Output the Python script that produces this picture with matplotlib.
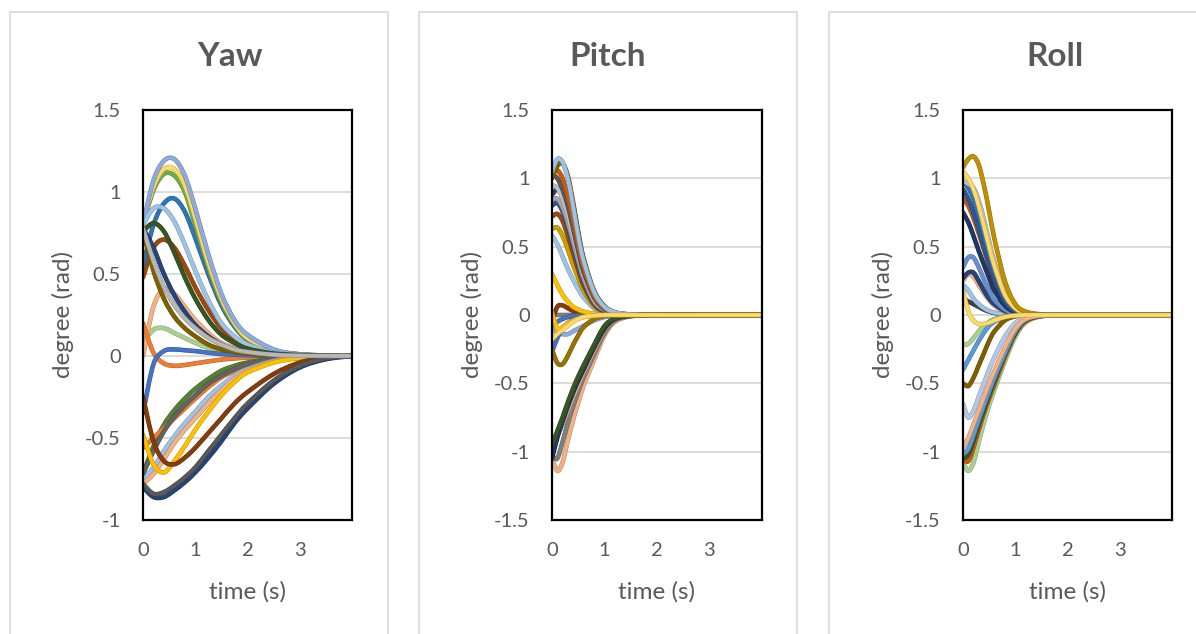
import numpy as np
import matplotlib
matplotlib.use("Agg")
import matplotlib.pyplot as plt
import matplotlib.patheffects as pe
from matplotlib.path import Path
from matplotlib.patches import PathPatch, Rectangle
from matplotlib.colors import to_rgb

plt.rcParams['font.family'] = ['Lato', 'DejaVu Sans']

# ---- data ----
yaw_t = [0, 0.2, 0.4, 0.6, 0.8, 1.0, 1.25, 1.5, 1.75, 2.0, 2.5, 3.0, 3.5, 4.0]
yaw_series = [
    [0.48, 0.66, 0.71, 0.66, 0.55, 0.42, 0.28, 0.17, 0.10, 0.06, 0.02, 0.005, 0.001, 0],
    [0.08, 0.16, 0.17, 0.14, 0.11, 0.08, 0.05, 0.03, 0.02, 0.01, 0.004, 0.001, 0, 0],
    [0.0, 0.30, 0.41, 0.38, 0.30, 0.22, 0.14, 0.08, 0.05, 0.03, 0.01, 0.003, 0.001, 0],
    [0.20, 0.02, -0.045, -0.06, -0.055, -0.045, -0.033, -0.022, -0.015, -0.01, -0.004, -0.001, 0, 0],
    [-0.35, -0.05, 0.03, 0.04, 0.035, 0.03, 0.02, 0.012, 0.008, 0.005, 0.002, 0, 0, 0],
    [0.55, 0.80, 0.93, 0.96, 0.88, 0.72, 0.50, 0.31, 0.18, 0.10, 0.03, 0.01, 0.003, 0],
    [0.80, 1.01, 1.11, 1.10, 1.00, 0.80, 0.54, 0.33, 0.19, 0.10, 0.03, 0.01, 0.003, 0],
    [0.80, 1.03, 1.14, 1.14, 1.04, 0.84, 0.57, 0.35, 0.20, 0.11, 0.035, 0.01, 0.003, 0],
    [0.80, 1.07, 1.19, 1.20, 1.10, 0.90, 0.62, 0.38, 0.22, 0.13, 0.04, 0.01, 0.003, 0],
    [0.80, 0.90, 0.90, 0.82, 0.68, 0.52, 0.34, 0.20, 0.12, 0.07, 0.02, 0.006, 0.002, 0],
    [0.76, 0.81, 0.76, 0.63, 0.48, 0.35, 0.22, 0.13, 0.08, 0.045, 0.015, 0.005, 0.001, 0],
    [0.78, 0.66, 0.50, 0.37, 0.27, 0.19, 0.12, 0.07, 0.04, 0.025, 0.008, 0.002, 0.001, 0],
    [0.76, 0.52, 0.35, 0.24, 0.17, 0.12, 0.07, 0.04, 0.025, 0.015, 0.005, 0.001, 0, 0],
    [-0.72, -0.55, -0.42, -0.33, -0.26, -0.20, -0.14, -0.09, -0.06, -0.04, -0.015, -0.005, -0.001, 0],
    [-0.56, -0.50, -0.44, -0.38, -0.32, -0.26, -0.19, -0.13, -0.09, -0.06, -0.02, -0.007, -0.002, 0],
    [-0.72, -0.58, -0.46, -0.37, -0.30, -0.24, -0.17, -0.12, -0.08, -0.05, -0.02, -0.006, -0.002, 0],
    [-0.76, -0.68, -0.58, -0.49, -0.41, -0.34, -0.25, -0.18, -0.12, -0.08, -0.03, -0.01, -0.003, 0],
    [-0.78, -0.72, -0.63, -0.53, -0.45, -0.38, -0.29, -0.21, -0.14, -0.09, -0.035, -0.012, -0.003, 0],
    [-0.48, -0.66, -0.71, -0.64, -0.55, -0.45, -0.34, -0.24, -0.16, -0.10, -0.04, -0.012, -0.003, 0],
    [-0.25, -0.52, -0.64, -0.66, -0.62, -0.56, -0.47, -0.38, -0.29, -0.22, -0.11, -0.04, -0.01, 0],
    [-0.80, -0.86, -0.86, -0.82, -0.77, -0.71, -0.62, -0.52, -0.41, -0.32, -0.17, -0.07, -0.02, 0],
    [-0.78, -0.84, -0.83, -0.79, -0.74, -0.68, -0.58, -0.48, -0.38, -0.29, -0.15, -0.06, -0.015, 0],
    [0.78, 0.58, 0.42, 0.31, 0.23, 0.17, 0.11, 0.07, 0.04, 0.025, 0.008, 0.002, 0.001, 0],
]
yaw_colors = ['#9E480E', '#A9D18E', '#F4B183', '#ED7D31', '#4472C4', '#2E75B6',
              '#70AD47', '#FFD966', '#8FAADC', '#9DC3E6', '#375623', '#264478',
              '#7F6000', '#548235', '#ED7D31', '#636363', '#9DC3E6', '#F4B183',
              '#FFC000', '#843C0C', '#264478', '#595959', '#B7B7B7']

ang_t = [0, 0.1, 0.2, 0.3, 0.4, 0.5, 0.6, 0.8, 1.0, 1.2, 1.5, 2.0, 3.0, 4.0]
pitch_series = [
    [0.0, 0, 0, 0, 0, 0, 0, 0, 0, 0, 0, 0, 0, 0],
    [-0.05, 0.06, 0.07, 0.05, 0.03, 0.015, 0.008, 0.002, 0, 0, 0, 0, 0, 0],
    [-0.08, -0.05, -0.03, -0.015, -0.008, -0.004, -0.002, 0, 0, 0, 0, 0, 0, 0],
    [-0.10, -0.13, -0.14, -0.14, -0.12, -0.10, -0.08, -0.04, -0.015, -0.005, 0, 0, 0, 0],
    [-0.27, -0.17, -0.10, -0.06, -0.035, -0.02, -0.01, -0.003, 0, 0, 0, 0, 0, 0],
    [-0.25, -0.35, -0.36, -0.30, -0.22, -0.15, -0.09, -0.03, -0.008, 0, 0, 0, 0, 0],
    [0.30, 0.22, 0.15, 0.10, 0.06, 0.04, 0.025, 0.01, 0.003, 0, 0, 0, 0, 0],
    [0.58, 0.52, 0.43, 0.34, 0.26, 0.19, 0.13, 0.05, 0.015, 0.005, 0, 0, 0, 0],
    [0.63, 0.64, 0.58, 0.48, 0.37, 0.27, 0.18, 0.065, 0.02, 0.006, 0.001, 0, 0, 0],
    [0.72, 0.74, 0.69, 0.58, 0.46, 0.33, 0.22, 0.08, 0.025, 0.008, 0.001, 0, 0, 0],
    [0.80, 0.82, 0.76, 0.65, 0.51, 0.37, 0.25, 0.09, 0.03, 0.01, 0.002, 0, 0, 0],
    [0.85, 0.85, 0.79, 0.68, 0.54, 0.40, 0.27, 0.10, 0.035, 0.01, 0.002, 0, 0, 0],
    [0.88, 0.92, 0.88, 0.77, 0.62, 0.46, 0.31, 0.12, 0.04, 0.012, 0.002, 0, 0, 0],
    [0.95, 0.93, 0.85, 0.73, 0.58, 0.43, 0.29, 0.11, 0.04, 0.012, 0.002, 0, 0, 0],
    [1.03, 1.00, 0.92, 0.80, 0.64, 0.47, 0.32, 0.13, 0.045, 0.015, 0.003, 0, 0, 0],
    [1.05, 1.06, 1.00, 0.87, 0.70, 0.51, 0.35, 0.14, 0.05, 0.015, 0.003, 0, 0, 0],
    [1.00, 1.09, 1.11, 1.02, 0.83, 0.61, 0.42, 0.18, 0.065, 0.02, 0.004, 0, 0, 0],
    [1.05, 1.14, 1.12, 1.00, 0.80, 0.58, 0.40, 0.17, 0.06, 0.02, 0.004, 0, 0, 0],
    [-1.05, -1.14, -1.08, -0.92, -0.77, -0.64, -0.52, -0.33, -0.15, -0.05, -0.01, 0, 0, 0],
    [-1.03, -1.05, -0.93, -0.79, -0.67, -0.56, -0.46, -0.29, -0.13, -0.04, -0.008, 0, 0, 0],
    [-0.90, -0.88, -0.80, -0.70, -0.60, -0.51, -0.42, -0.26, -0.11, -0.035, -0.007, 0, 0, 0],
    [-1.05, -0.90, -0.78, -0.67, -0.57, -0.48, -0.40, -0.24, -0.10, -0.03, -0.006, 0, 0, 0],
    [-0.95, -0.85, -0.75, -0.64, -0.54, -0.45, -0.37, -0.22, -0.08, -0.025, -0.005, 0, 0, 0],
    [0.02, -0.10, -0.09, -0.06, -0.04, -0.025, -0.015, -0.005, 0, 0, 0, 0, 0, 0],
    [-0.18, -0.14, -0.11, -0.08, -0.05, -0.03, -0.015, -0.004, 0, 0, 0, 0, 0, 0],
]
pitch_colors = ['#7F7F7F', '#843C0C', '#4472C4', '#8FAADC', '#4472C4', '#997300',
                '#FFC000', '#9DC3E6', '#C9A000', '#9E480E', '#2F5597', '#A5A5A5',
                '#264478', '#BFBFBF', '#595959', '#C55A11', '#7F6000', '#9DC3E6',
                '#F4B183', '#7F7F7F', '#F4B183', '#1F3864', '#375623', '#FFC000',
                '#FFD966']

roll_series = [
    [0.12, 0.10, 0.08, 0.06, 0.04, 0.025, 0.015, 0.004, 0.001, 0, 0, 0, 0, 0],
    [0.22, 0.18, 0.12, 0.08, 0.05, 0.03, 0.018, 0.006, 0.002, 0, 0, 0, 0, 0],
    [0.25, 0.30, 0.28, 0.22, 0.16, 0.11, 0.07, 0.025, 0.007, 0.002, 0, 0, 0, 0],
    [0.27, 0.31, 0.31, 0.25, 0.18, 0.12, 0.08, 0.03, 0.008, 0.002, 0, 0, 0, 0],
    [0.35, 0.42, 0.42, 0.35, 0.26, 0.18, 0.11, 0.04, 0.01, 0.003, 0, 0, 0, 0],
    [0.85, 0.80, 0.71, 0.60, 0.48, 0.36, 0.25, 0.09, 0.03, 0.008, 0, 0, 0, 0],
    [0.75, 0.68, 0.58, 0.47, 0.37, 0.27, 0.18, 0.07, 0.02, 0.006, 0.001, 0, 0, 0],
    [0.92, 0.85, 0.75, 0.63, 0.50, 0.38, 0.27, 0.10, 0.03, 0.01, 0.002, 0, 0, 0],
    [0.98, 0.93, 0.85, 0.73, 0.59, 0.45, 0.32, 0.13, 0.04, 0.012, 0.002, 0, 0, 0],
    [0.98, 0.96, 0.93, 0.84, 0.70, 0.54, 0.39, 0.16, 0.05, 0.015, 0.003, 0, 0, 0],
    [1.05, 1.00, 0.92, 0.80, 0.65, 0.50, 0.36, 0.15, 0.05, 0.015, 0.003, 0, 0, 0],
    [1.08, 1.14, 1.16, 1.10, 0.95, 0.76, 0.56, 0.25, 0.08, 0.025, 0.005, 0, 0, 0],
    [-0.22, -0.21, -0.17, -0.12, -0.08, -0.05, -0.03, -0.01, -0.003, 0, 0, 0, 0, 0],
    [-0.40, -0.33, -0.26, -0.19, -0.13, -0.08, -0.05, -0.015, -0.004, 0, 0, 0, 0, 0],
    [-0.50, -0.52, -0.46, -0.37, -0.28, -0.19, -0.12, -0.04, -0.01, -0.002, 0, 0, 0, 0],
    [-0.65, -0.75, -0.70, -0.60, -0.50, -0.40, -0.31, -0.16, -0.06, -0.02, -0.003, 0, 0, 0],
    [-1.08, -1.14, -1.08, -0.93, -0.79, -0.66, -0.55, -0.34, -0.16, -0.055, -0.01, 0, 0, 0],
    [-1.05, -1.07, -0.97, -0.84, -0.72, -0.61, -0.51, -0.31, -0.14, -0.045, -0.008, 0, 0, 0],
    [-1.05, -1.02, -0.92, -0.80, -0.69, -0.58, -0.48, -0.29, -0.13, -0.04, -0.007, 0, 0, 0],
    [-1.02, -0.98, -0.88, -0.77, -0.66, -0.56, -0.46, -0.28, -0.12, -0.035, -0.006, 0, 0, 0],
    [-0.97, -0.90, -0.80, -0.70, -0.60, -0.50, -0.41, -0.24, -0.10, -0.03, -0.005, 0, 0, 0],
    [0.18, 0.03, -0.04, -0.065, -0.065, -0.055, -0.04, -0.015, -0.005, 0, 0, 0, 0, 0],
]
roll_colors = ['#404040', '#9DC3E6', '#F4B183', '#264478', '#698ED0', '#C55A11',
               '#1F3864', '#2F5597', '#2E75B6', '#BFBFBF', '#FFD966', '#BF9000',
               '#A9D18E', '#5B9BD5', '#7F6000', '#B4C7E7', '#A9D18E', '#C55A11',
               '#375623', '#5B9BD5', '#F4B183', '#FFD966']

TEXT = '#595959'
W, H = 1196, 634


def smooth_path(x, y):
    # Catmull-Rom style bezier through the samples, like a smoothed spreadsheet line
    pts = np.column_stack([x, y]).astype(float)
    n = len(pts)
    verts = [pts[0]]
    codes = [Path.MOVETO]
    for i in range(n - 1):
        p0 = pts[max(i - 1, 0)]
        p1 = pts[i]
        p2 = pts[i + 1]
        p3 = pts[min(i + 2, n - 1)]
        verts += [p1 + (p2 - p0) / 6, p2 - (p3 - p1) / 6, p2]
        codes += [Path.CURVE4] * 3
    return Path(verts, codes)


def draw_panel(ax, t, series, colors, ylim, yticks):
    for vals, c in zip(series, colors):
        edge = tuple(v * 0.75 for v in to_rgb(c))
        patch = PathPatch(smooth_path(t, vals), fill=False, edgecolor=c, lw=2.6,
                          capstyle='round', joinstyle='round')
        patch.set_path_effects([pe.Stroke(linewidth=3.3, foreground=edge), pe.Normal()])
        ax.add_patch(patch)
    ax.set_xlim(0, 4)
    ax.set_ylim(*ylim)
    ax.set_xticks([0, 1, 2, 3])
    ax.set_xticklabels(['0', '1', '2', '3'])
    ax.set_yticks(yticks)
    ax.set_yticklabels([('%g' % v) for v in yticks])
    ax.yaxis.grid(True, color='#D9D9D9', lw=1.3)
    ax.set_axisbelow(True)
    ax.tick_params(length=0, labelsize=14.5, colors=TEXT)
    ax.tick_params(axis='y', pad=16)
    ax.tick_params(axis='x', pad=16)
    for s in ax.spines.values():
        s.set_color('black')
        s.set_linewidth(1.6)
        s.set_zorder(5)
    ax.set_xlabel('time (s)', fontsize=17.5, color=TEXT, labelpad=16)
    ax.set_ylabel('degree (rad)', fontsize=17.5, color=TEXT, labelpad=8)


fig = plt.figure(figsize=(W / 100, H / 100), dpi=100)
fig.patch.set_facecolor('white')

# outer chart frames
for x0, x1 in [(10, 388), (419, 797), (829, 1210)]:
    fig.patches.append(Rectangle((x0 / W, -0.05), (x1 - x0) / W, 1.05 - 12 / H,
                                 transform=fig.transFigure, fill=False,
                                 edgecolor='#D9D9D9', lw=1.2))

bottom = 1 - 520 / H
height = (520 - 110) / H
panels = [
    (143, 352, 'Yaw', 230, yaw_t, yaw_series, yaw_colors, (-1, 1.5),
     [-1, -0.5, 0, 0.5, 1, 1.5]),
    (552, 762, 'Pitch', 608, ang_t, pitch_series, pitch_colors, (-1.5, 1.5),
     [-1.5, -1, -0.5, 0, 0.5, 1, 1.5]),
    (963, 1172, 'Roll', 1055, ang_t, roll_series, roll_colors, (-1.5, 1.5),
     [-1.5, -1, -0.5, 0, 0.5, 1, 1.5]),
]
for left, right, title, tx, t, series, colors, ylim, yticks in panels:
    ax = fig.add_axes([left / W, bottom, (right - left) / W, height])
    draw_panel(ax, t, series, colors, ylim, yticks)
    fig.text(tx / W, 1 - 66 / H, title, ha='center', va='baseline',
             fontsize=24, fontweight='bold', color=TEXT)

fig.savefig('out.png', dpi=100)
